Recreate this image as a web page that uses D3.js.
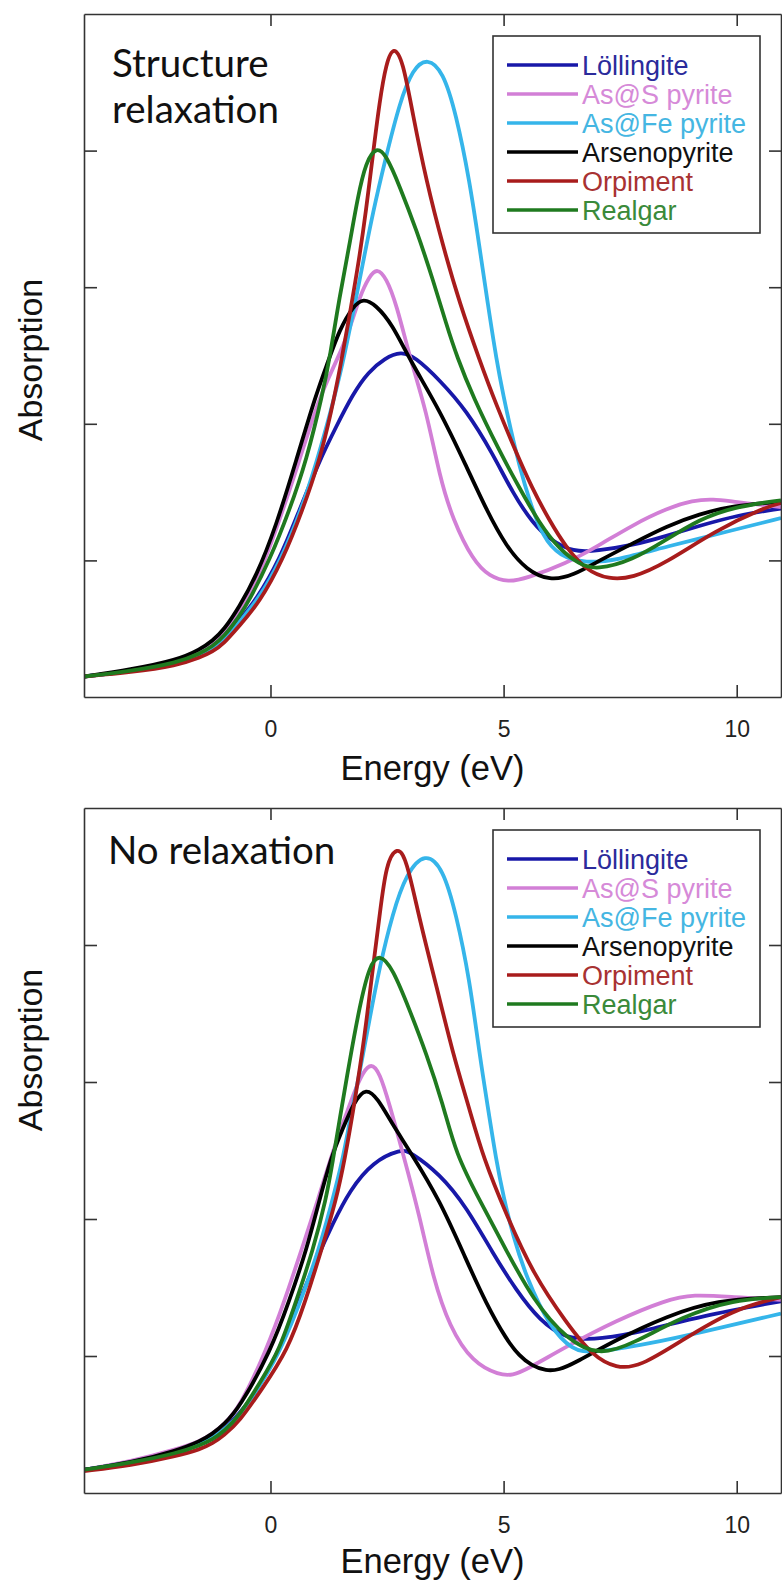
<!DOCTYPE html>
<html>
<head>
<meta charset="utf-8">
<script src="https://cdn.jsdelivr.net/npm/d3@7"></script>
<style>
  body { margin: 0; background: #fff; }
  svg { display: block; }
</style>
</head>
<body>
<div id="chart"></div>
<script>
// series names and colours, in the legend order
var seriesNames = ["Löllingite", "As@S pyrite", "As@Fe pyrite", "Arsenopyrite", "Orpiment", "Realgar"];
var lineColors = ["#1818a8", "#d27fd6", "#35b5ea", "#000000", "#a81c1c", "#1f7a1f"];
var textColors = ["#2b2b9b", "#d68ad8", "#45b6e2", "#111111", "#a83232", "#3a8a3a"];
var xTicks = [0, 5, 10];
var yTicks = [1, 2, 3, 4];

// [energy (eV), absorption] (structure relaxation)
var lollingiteRelax = [[-4,0.15],[-3,0.19],[-2,0.25],[-1.5,0.31],[-1.25,0.36],[-1,0.43],[-0.67,0.56],[-0.31,0.71],[0.19,1.0],[0.62,1.37],[1.05,1.73],[1.41,1.98],[1.77,2.22],[2.1,2.38],[2.45,2.48],[2.8,2.53],[3.1,2.49],[3.63,2.32],[4.2,2.1],[4.77,1.78],[5.2,1.49],[5.63,1.27],[6.0,1.15],[6.5,1.06],[7.0,1.07],[7.77,1.11],[8.5,1.18],[9.17,1.25],[10.0,1.33],[10.95,1.38]];
var assRelax = [[-4,0.15],[-3,0.19],[-2,0.26],[-1.5,0.33],[-1.25,0.38],[-1,0.46],[-0.67,0.63],[-0.3,0.84],[0.1,1.2],[0.62,1.73],[1.05,2.2],[1.42,2.46],[1.7,2.69],[1.91,2.93],[2.12,3.08],[2.29,3.14],[2.48,3.07],[2.7,2.88],[3.0,2.47],[3.34,2.10],[3.63,1.61],[3.91,1.30],[4.34,1.0],[4.7,0.88],[5.1,0.84],[5.5,0.87],[6.35,0.98],[7.0,1.1],[7.77,1.26],[8.5,1.38],[9.06,1.44],[9.5,1.45],[9.91,1.43],[10.95,1.39]];
var asfeRelax = [[-4,0.15],[-3,0.19],[-2,0.24],[-1.5,0.3],[-1.25,0.35],[-1,0.41],[-0.67,0.55],[-0.25,0.72],[0.22,1.0],[0.66,1.37],[1.0,1.73],[1.3,2.1],[1.55,2.44],[1.77,2.81],[1.98,3.17],[2.19,3.54],[2.48,3.96],[2.77,4.35],[3.05,4.6],[3.37,4.68],[3.7,4.58],[3.98,4.27],[4.27,3.78],[4.48,3.30],[4.66,2.88],[4.85,2.46],[5.0,2.2],[5.15,1.96],[5.34,1.69],[5.55,1.44],[5.84,1.17],[6.2,1.03],[6.77,0.98],[7.42,1.0],[8.48,1.10],[9.91,1.22],[10.95,1.31]];
var arsenoRelax = [[-4,0.15],[-3,0.2],[-2,0.27],[-1.5,0.35],[-1.25,0.41],[-1,0.49],[-0.67,0.66],[-0.31,0.88],[0.12,1.25],[0.55,1.73],[0.98,2.22],[1.23,2.45],[1.48,2.69],[1.77,2.86],[1.99,2.92],[2.26,2.87],[2.61,2.73],[3.0,2.46],[3.63,2.10],[4.2,1.69],[4.63,1.37],[5.06,1.10],[5.49,0.93],[5.99,0.85],[6.5,0.89],[7.06,1.0],[7.8,1.13],[8.49,1.25],[9.2,1.34],[9.91,1.40],[10.95,1.43]];
var orpimentRelax = [[-4,0.15],[-3,0.18],[-2,0.23],[-1.5,0.29],[-1.25,0.33],[-1,0.39],[-0.67,0.52],[-0.24,0.69],[0.26,1.0],[0.69,1.37],[1.05,1.73],[1.3,2.08],[1.5,2.42],[1.7,2.8],[1.9,3.2],[2.05,3.56],[2.2,3.98],[2.34,4.36],[2.48,4.64],[2.64,4.77],[2.84,4.66],[3.05,4.27],[3.34,3.78],[3.70,3.30],[4.06,2.88],[4.48,2.47],[4.84,2.14],[5.27,1.79],[5.61,1.53],[5.97,1.30],[6.33,1.10],[6.76,0.93],[7.26,0.86],[7.76,0.87],[8.48,0.98],[9.55,1.22],[10.62,1.39],[10.95,1.42]];
var realgarRelax = [[-4,0.15],[-3,0.19],[-2,0.25],[-1.5,0.32],[-1.25,0.37],[-1,0.44],[-0.67,0.59],[-0.45,0.71],[-0.02,1.0],[0.41,1.37],[0.77,1.73],[1.12,2.22],[1.28,2.5],[1.48,2.93],[1.69,3.30],[1.87,3.66],[2.05,3.92],[2.27,4.03],[2.48,3.97],[2.77,3.74],[3.13,3.42],[3.49,3.05],[3.77,2.73],[4.0,2.49],[4.34,2.2],[4.91,1.8],[5.34,1.53],[5.77,1.27],[6.2,1.08],[6.63,0.97],[6.99,0.93],[7.76,1.0],[8.48,1.15],[9.2,1.3],[9.91,1.39],[10.95,1.44]];

// bottom panel (no relaxation)
var lollingiteNoRelax = [[-4,0.17],[-3,0.22],[-2,0.3],[-1.5,0.36],[-1.25,0.4],[-1,0.46],[-0.67,0.58],[-0.38,0.70],[0.12,0.99],[0.55,1.34],[0.98,1.70],[1.34,1.97],[1.7,2.21],[2.2,2.42],[2.8,2.51],[3.0,2.49],[3.63,2.33],[4.2,2.09],[4.77,1.75],[5.27,1.48],[5.77,1.26],[6.35,1.12],[7.06,1.12],[8.13,1.19],[9.2,1.29],[10.95,1.40]];
var assNoRelax = [[-4,0.17],[-3,0.23],[-2,0.32],[-1.5,0.38],[-1.25,0.43],[-1,0.5],[-0.67,0.62],[-0.09,1.04],[0.3,1.4],[0.66,1.77],[1.02,2.14],[1.34,2.5],[1.6,2.74],[1.8,2.93],[1.98,3.07],[2.16,3.14],[2.34,3.07],[2.55,2.84],[2.84,2.48],[3.2,2.02],[3.48,1.58],[3.84,1.21],[4.34,0.95],[4.91,0.86],[5.2,0.86],[5.49,0.90],[6.35,1.07],[7.42,1.26],[8.49,1.41],[9.06,1.45],[9.92,1.43],[10.95,1.41]];
var asfeNoRelax = [[-4,0.17],[-3,0.22],[-2,0.3],[-1.5,0.36],[-1.25,0.4],[-1,0.46],[-0.67,0.56],[-0.2,0.8],[0.25,1.05],[0.98,1.70],[1.3,2.1],[1.55,2.43],[1.7,2.72],[1.91,3.06],[2.12,3.45],[2.34,3.84],[2.62,4.23],[2.91,4.52],[3.32,4.68],[3.70,4.56],[3.98,4.23],[4.27,3.75],[4.48,3.21],[4.66,2.82],[4.84,2.43],[5.0,2.16],[5.2,1.88],[5.49,1.57],[5.99,1.21],[6.48,1.04],[6.91,1.02],[8.13,1.09],[9.2,1.17],[10.95,1.31]];
var arsenoNoRelax = [[-4,0.17],[-3,0.22],[-2,0.31],[-1.5,0.38],[-1.25,0.43],[-1,0.5],[-0.67,0.62],[0.01,1.04],[0.4,1.4],[0.77,1.77],[1.05,2.14],[1.3,2.45],[1.55,2.66],[1.8,2.86],[2.05,2.96],[2.3,2.88],[2.6,2.7],[2.98,2.5],[3.63,2.14],[4.2,1.70],[4.63,1.38],[5.06,1.12],[5.34,1.0],[5.6,0.93],[5.91,0.89],[6.2,0.9],[6.48,0.94],[7.42,1.12],[8.49,1.29],[9.56,1.41],[10.95,1.43]];
var orpimentNoRelax = [[-4,0.16],[-3,0.2],[-2,0.27],[-1.5,0.32],[-1.25,0.36],[-1,0.42],[-0.67,0.52],[-0.2,0.75],[0.37,1.04],[0.75,1.4],[1.09,1.77],[1.41,2.14],[1.59,2.43],[1.8,2.84],[2.02,3.33],[2.19,3.82],[2.34,4.21],[2.48,4.6],[2.72,4.72],[2.91,4.64],[3.2,4.18],[3.56,3.70],[3.91,3.21],[4.27,2.80],[4.56,2.45],[5.06,2.03],[5.63,1.6],[6.35,1.24],[6.91,1.0],[7.42,0.91],[7.92,0.92],[8.85,1.12],[9.92,1.34],[10.95,1.43]];
var realgarNoRelax = [[-4,0.17],[-3,0.22],[-2,0.29],[-1.5,0.35],[-1.25,0.39],[-1,0.45],[-0.67,0.56],[-0.2,0.82],[0.19,1.04],[0.55,1.4],[0.91,1.77],[1.19,2.14],[1.34,2.43],[1.48,2.72],[1.7,3.16],[1.91,3.55],[2.12,3.85],[2.34,3.94],[2.62,3.83],[2.98,3.53],[3.34,3.21],[3.7,2.84],[3.98,2.47],[4.48,2.14],[5.06,1.77],[5.63,1.41],[6.35,1.12],[7.06,1.0],[7.77,1.09],[8.85,1.29],[9.92,1.41],[10.95,1.43]];

var width = 782, height = 1584;
var left = 84, right = 781;

var svg = d3.select("#chart")
  .append("svg")
    .attr("width", width)
    .attr("height", height);

var x = d3.scaleLinear()
  .domain([-4, 10.95])
  .range([left, right]);

function drawPanel(id, top, bottom, label, labelX, labelY, data, absY, energyY) {
  var y = d3.scaleLinear()
    .domain([0, 5])
    .range([bottom, top]);

  var g = svg.append("g");

  svg.append("clipPath")
      .attr("id", id)
    .append("rect")
      .attr("x", left)
      .attr("y", top)
      .attr("width", right - left)
      .attr("height", bottom - top);

  // the source curves are smooth, so a B-spline through the read points
  var line = d3.line()
    .x(d => x(d[0]))
    .y(d => y(d[1]))
    .curve(d3.curveBasis);

  // curves, drawn in legend order so green ends up on top
  g.append("g")
    .attr("clip-path", "url(#" + id + ")")
    .selectAll("path")
    .data(data)
    .enter()
    .append("path")
      .attr("d", d => line(d))
      .attr("fill", "none")
      .attr("stroke", (d, i) => lineColors[i])
      .attr("stroke-width", 3.8)
      .attr("stroke-linejoin", "round");

  // box axes, ticks pointing inwards
  var xAxis = g.append("g")
    .attr("transform", "translate(0," + bottom + ")")
    .call(d3.axisBottom(x).tickValues(xTicks).tickSizeInner(-12).tickSizeOuter(0).tickPadding(24));
  g.append("g")
    .attr("transform", "translate(0," + top + ")")
    .call(d3.axisTop(x).tickValues(xTicks).tickSizeInner(-12).tickSizeOuter(0).tickFormat(""));
  g.append("g")
    .attr("transform", "translate(" + left + ",0)")
    .call(d3.axisLeft(y).tickValues(yTicks).tickSizeInner(-13).tickSizeOuter(0).tickFormat(""));
  g.append("g")
    .attr("transform", "translate(" + right + ",0)")
    .call(d3.axisRight(y).tickValues(yTicks).tickSizeInner(-12).tickSizeOuter(0).tickFormat(""));

  g.selectAll(".domain, .tick line")
    .attr("stroke", "#333")
    .attr("stroke-width", 1.6);
  xAxis.selectAll("text")
    .attr("font-family", "Liberation Sans, Arial, sans-serif")
    .attr("font-size", 23)
    .attr("fill", "#222");

  // panel title
  var title = g.append("text")
    .attr("font-family", "Lato, sans-serif")
    .attr("font-size", 38.5)
    .attr("fill", "#111");
  label.forEach((t, i) => {
    title.append("tspan")
      .attr("x", labelX)
      .attr("y", labelY + i * 46)
      .text(t);
  });

  // legend
  var legTop = top + 22;
  var legend = g.append("g");
  legend.append("rect")
    .attr("x", 493)
    .attr("y", legTop)
    .attr("width", 267)
    .attr("height", 197)
    .attr("fill", "#fff")
    .attr("stroke", "#333")
    .attr("stroke-width", 1.6);
  var rows = legend.selectAll("g.row")
    .data(seriesNames)
    .enter()
    .append("g")
      .attr("class", "row")
      .attr("transform", (d, i) => "translate(0," + (legTop + 29 + i * 29) + ")");
  rows.append("line")
    .attr("x1", 507)
    .attr("x2", 578)
    .attr("stroke", (d, i) => lineColors[i])
    .attr("stroke-width", 3.6);
  rows.append("text")
    .attr("x", 582)
    .attr("dy", "0.36em")
    .attr("font-family", "Liberation Sans, Arial, sans-serif")
    .attr("font-size", 27)
    .attr("fill", (d, i) => textColors[i])
    .text(d => d);

  // axis titles
  g.append("text")
    .attr("x", (left + right) / 2)
    .attr("y", energyY)
    .attr("text-anchor", "middle")
    .attr("font-family", "Liberation Sans, Arial, sans-serif")
    .attr("font-size", 34.5)
    .attr("fill", "#111")
    .text("Energy (eV)");
  g.append("text")
    .attr("transform", "translate(42," + absY + ") rotate(-90)")
    .attr("text-anchor", "middle")
    .attr("font-family", "Liberation Sans, Arial, sans-serif")
    .attr("font-size", 34)
    .attr("fill", "#111")
    .text("Absorption");
}

drawPanel("clipTop", 14, 697, ["Structure", "relaxation"], 112, 77,
  [lollingiteRelax, assRelax, asfeRelax, arsenoRelax, orpimentRelax, realgarRelax], 360, 780);
drawPanel("clipBottom", 808, 1493, ["No relaxation"], 108, 864,
  [lollingiteNoRelax, assNoRelax, asfeNoRelax, arsenoNoRelax, orpimentNoRelax, realgarNoRelax], 1050, 1573);
</script>
</body>
</html>
